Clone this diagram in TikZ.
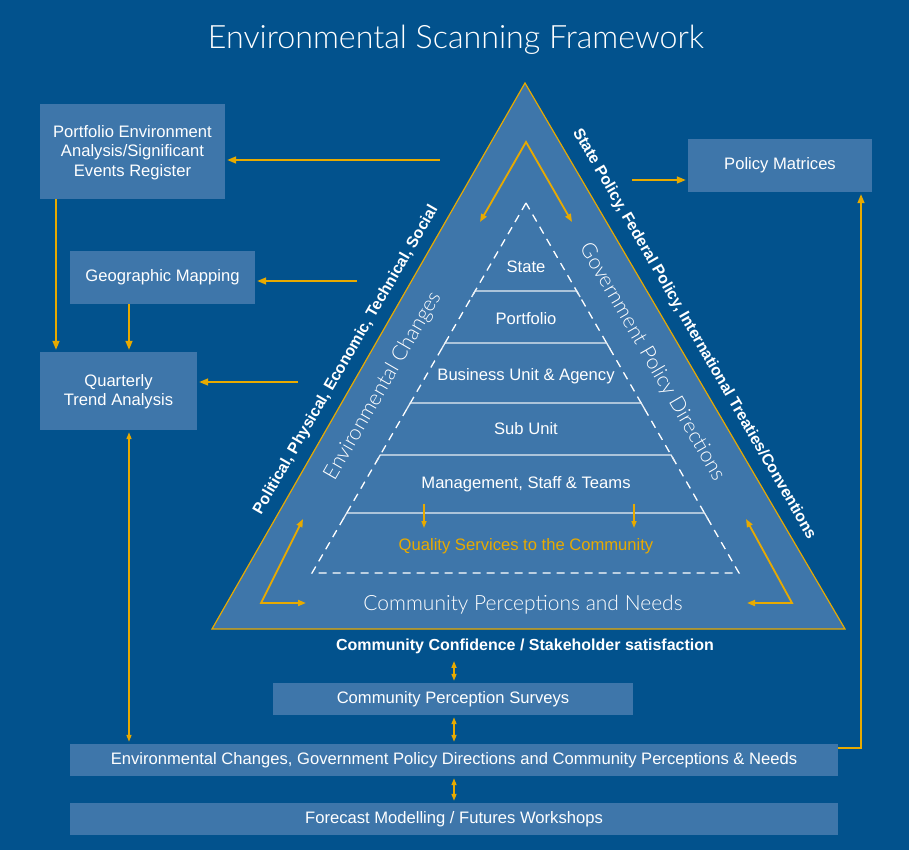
\documentclass[tikz,border=0pt]{standalone}
\usepackage{fontspec}
\setmainfont{Liberation Sans}
\newfontfamily\thinfont{Lato Light}
\usetikzlibrary{arrows.meta,calc}
\definecolor{bgblue}{RGB}{2,82,141}
\definecolor{boxblue}{RGB}{62,118,170}
\definecolor{gold}{RGB}{232,170,0}
\begin{document}
\begin{tikzpicture}[x=1pt,y=-1pt,
  box/.style={fill=boxblue,text=white,inner sep=0pt,align=center,
    font=\fontsize{16.6}{19.5}\selectfont},
  arr/.style={draw=gold,line width=1.5pt,-{Triangle[length=9pt,width=7pt]},shorten >=2pt},
  darr/.style={draw=gold,line width=1.5pt,
    {Triangle[length=7pt,width=5pt]}-{Triangle[length=7pt,width=5pt]},
    shorten >=2pt,shorten <=2pt},
  loop/.style={draw=gold,line width=1.8pt,
    {Triangle[length=8pt,width=6pt]}-{Triangle[length=8pt,width=6pt]}},
  tier/.style={text=white,font=\fontsize{16.6}{19}\selectfont},
  rule/.style={draw=white!88!boxblue,line width=1.3pt},
  sidetext/.style={text=white,font=\bfseries\fontsize{15.8}{18}\selectfont},
  thintext/.style={text=white,font=\thinfont\fontsize{21}{25}\selectfont},
]
% background and page size
\fill[bgblue] (0,0) rectangle (909,850);
\useasboundingbox (0,0) rectangle (909,850);

% title
\node[text=white,font=\thinfont\fontsize{32.2}{37}\selectfont] (title) at (456,40)
  {Environmental Scanning Framework};

% outer triangle
\coordinate (apex) at (525,83);
\coordinate (bl) at (212,629);
\coordinate (br) at (845,629);
\filldraw[fill=boxblue,draw=gold,line width=1.2pt] (apex) -- (bl) -- (br) -- cycle;

% inner dashed triangle
\coordinate (iapex) at (526,203);
\coordinate (ibl) at (312,573);
\coordinate (ibr) at (739,573);
\draw[white,line width=1.3pt,dash pattern=on 8pt off 6pt] (iapex) -- (ibl) -- (ibr) -- cycle;

% tier dividers
\foreach \f/\n in {0.2378/r1,0.3784/r2,0.5405/r3,0.6811/r4,0.8378/r5}{
  \coordinate (\n L) at ($(iapex)!\f!(ibl)$);
  \coordinate (\n R) at ($(iapex)!\f!(ibr)$);
  \draw[rule] ($(\n L)+(-3.5,6)$) -- (\n L) -- (\n R) -- ($(\n R)+(3.5,6)$);
}

% tier labels
\node[tier] (state) at (526,267) {State};
\node[tier] (portf) at (526,319) {Portfolio};
\node[tier] (bua) at (526,376) {Business Unit \& Agency};
\node[tier] (sub) at (526,429) {Sub Unit};
\node[tier] (mst) at (526,484) {Management, Staff \& Teams};
\node[tier,text=gold] (qual) at (526,546) {Quality Services to the Community};

% arrows from management tier to services
\coordinate (q1a) at (424,504); \coordinate (q1b) at (424,528);
\coordinate (q2a) at (634,504); \coordinate (q2b) at (634,528);
\draw[draw=gold,line width=1.5pt,-{Triangle[length=7pt,width=5pt]}] (q1a) -- (q1b);
\draw[draw=gold,line width=1.5pt,-{Triangle[length=7pt,width=5pt]}] (q2a) -- (q2b);

% circulating arrows in the corners of the triangle
\coordinate (t1) at (480,222); \coordinate (t2) at (526,142); \coordinate (t3) at (572,222);
\draw[loop] (t1) -- (t2) -- (t3);
\coordinate (l1) at (303,519); \coordinate (l2) at (261,603); \coordinate (l3) at (306,603);
\draw[loop] (l1) -- (l2) -- (l3);
\coordinate (k1) at (746,519); \coordinate (k2) at (792,603); \coordinate (k3) at (747,603);
\draw[loop] (k1) -- (k2) -- (k3);

% labels along the triangle
\node[thintext] (cpn) at (523,605) {Community Perceptions and Needs};
\node[thintext,rotate=60] (envch) at (383,386) {Environmental Changes};
\node[thintext,rotate=-60] (gpd) at (652,362) {Government Policy Directions};
\node[sidetext,rotate=60] (pest) at (346,360) {Political, Physical, Economic, Technical, Social};
\node[sidetext,rotate=-60] (pol) at (694,334) {State Policy, Federal Policy, International Treaties/Conventions};

% side boxes
\node[box,minimum width=185pt,minimum height=95pt] (port) at (132.5,151.5)
  {\strut Portfolio Environment\\Analysis/Significant\\Events Register};
\node[box,minimum width=185pt,minimum height=53pt] (geo) at (162.5,277.5) {Geographic Mapping};
\node[box,minimum width=157pt,minimum height=78pt] (quart) at (118.5,391)
  {\strut Quarterly\\Trend Analysis};
\node[box,minimum width=184pt,minimum height=53pt] (matr) at (780,165.5) {Policy Matrices};

% bottom boxes
\node[text=white,font=\bfseries\fontsize{16}{18}\selectfont] (conf) at (525,646)
  {Community Confidence / Stakeholder satisfaction};
\node[box,minimum width=360pt,minimum height=32pt] (surv) at (453,699) {Community Perception Surveys};
\node[box,minimum width=768pt,minimum height=32pt] (envb) at (454,760)
  {Environmental Changes, Government Policy Directions and Community Perceptions \& Needs};
\node[box,minimum width=768pt,minimum height=32pt] (fore) at (454,819)
  {Forecast Modelling / Futures Workshops};

% connectors
\coordinate (s1) at (440,160);
\draw[arr] (s1) -- (s1 -| port.east);
\coordinate (s2) at (357,281);
\draw[arr] (s2) -- (s2 -| geo.east);
\coordinate (s3) at (298,382);
\draw[arr] (s3) -- (s3 -| quart.east);
\coordinate (s4) at (632,180);
\draw[arr] (s4) -- (s4 -| matr.west);

\coordinate (x56) at (56,0);
\coordinate (x129) at (129,0);
\coordinate (x454) at (454,0);
\coordinate (x861) at (861,0);
\coordinate (y748) at (0,748);

\draw[arr] (port.south -| x56) -- (quart.north -| x56);
\draw[arr] (geo.south -| x129) -- (quart.north -| x129);
\draw[darr] (quart.south -| x129) -- (envb.north -| x129);
\draw[arr] (envb.east |- y748) -- (x861 |- y748) -- (matr.south -| x861);

\draw[darr] ($(conf.south -| x454)+(0,2)$) -- (surv.north -| x454);
\draw[darr] (surv.south -| x454) -- (envb.north -| x454);
\draw[darr] (envb.south -| x454) -- (fore.north -| x454);
\end{tikzpicture}
\end{document}
